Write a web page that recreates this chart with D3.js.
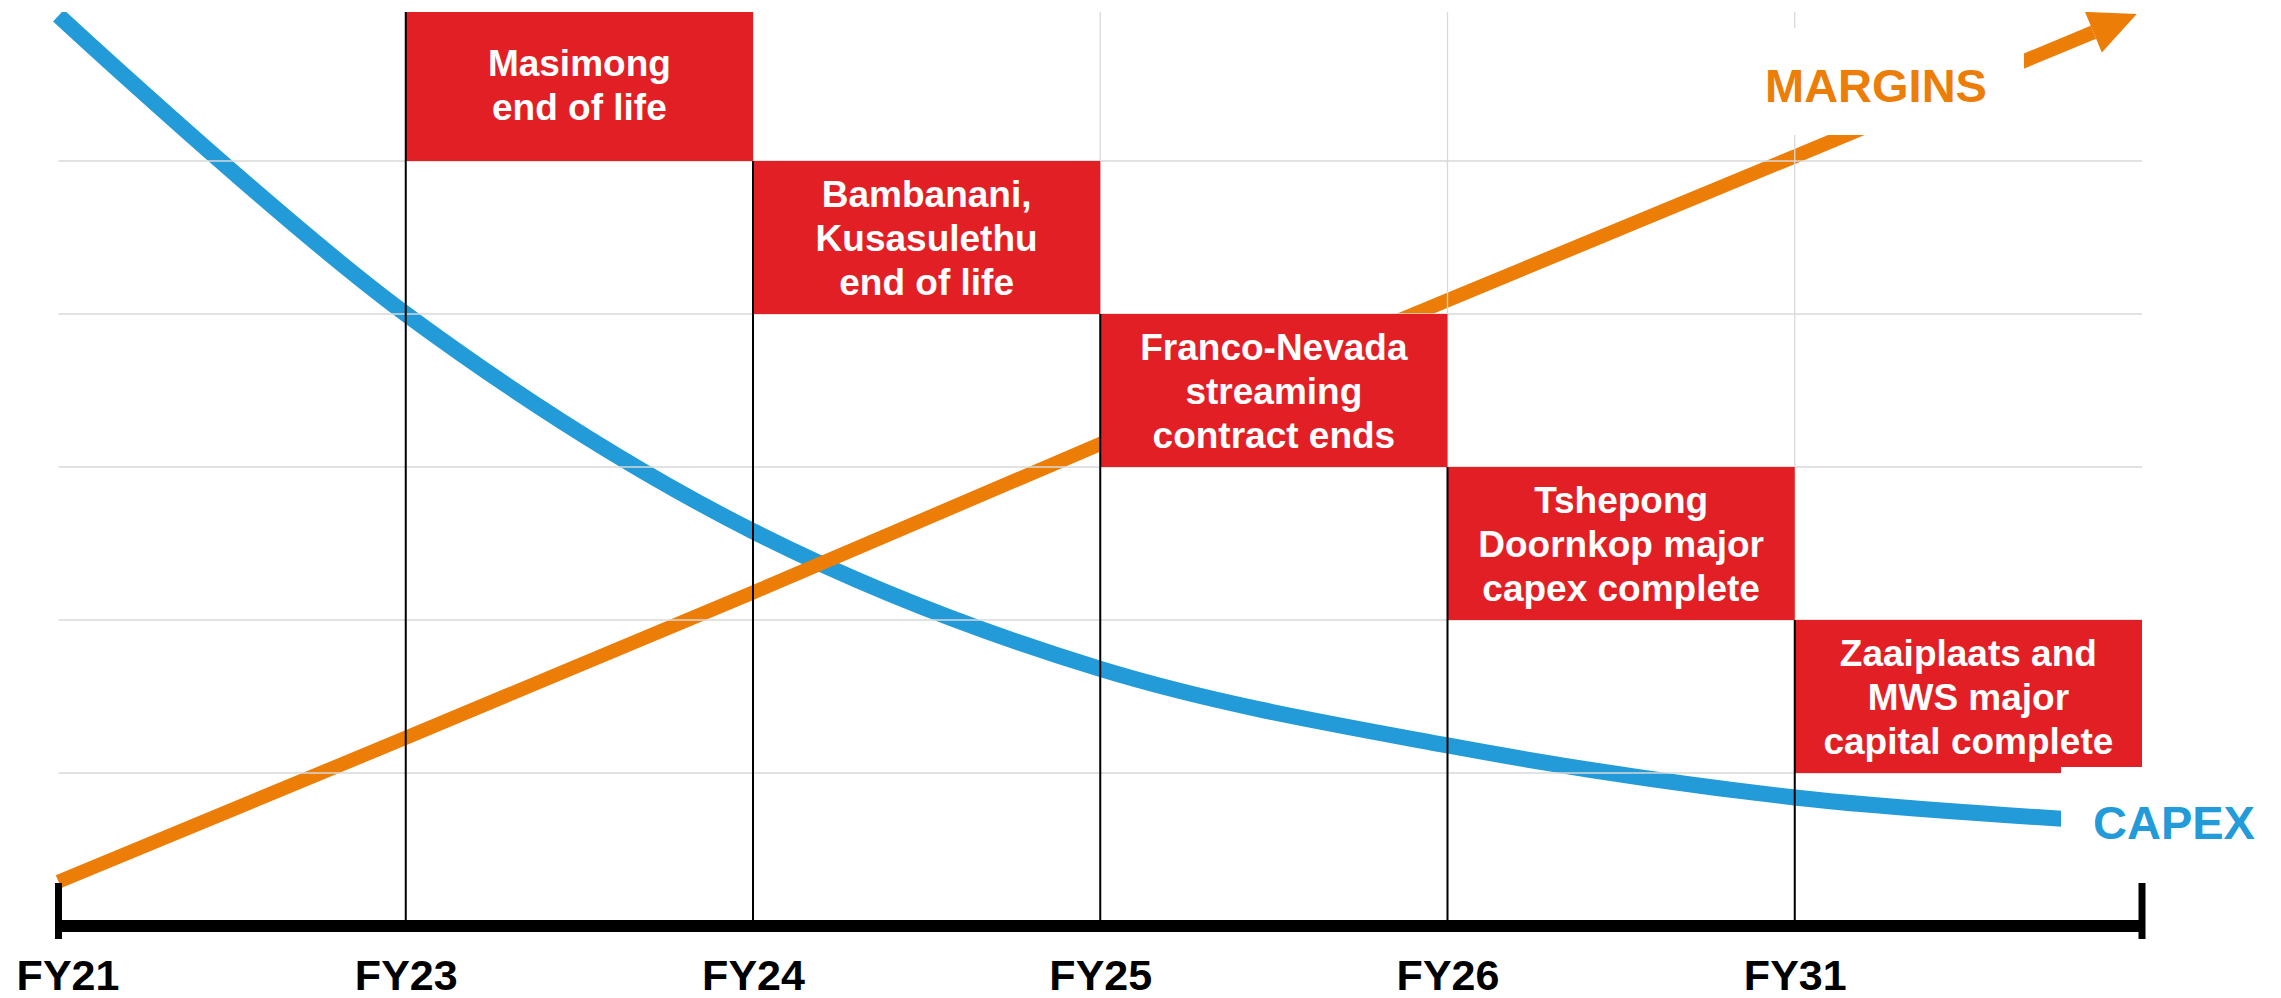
<!DOCTYPE html>
<html>
<head>
<meta charset="utf-8">
<script src="https://cdn.jsdelivr.net/npm/d3@7"></script>
<style>
	body { margin: 0; background: #fff; }
	svg text { font-family: "Liberation Sans", Arial, sans-serif; font-weight: bold; }
</style>
</head>
<body>
<div id="chart"></div>
<script>
// x positions are category slots, the last slot (6) is the arrow end of the axis
var categories = ['FY21', 'FY23', 'FY24', 'FY25', 'FY26', 'FY31'];

var capexX = [0, 1, 2, 3, 4, 5, 5.85];
var capexValues = [5.95, 4.0, 2.58, 1.68, 1.18, 0.84, 0.69];

var marginsX = [0, 1, 2, 3, 4, 5, 5.985];
var marginsValues = [0.29, 1.23, 2.18, 3.15, 4.09, 5.03, 5.96];

var eventLabels = [
	['Masimong', 'end of life'],
	['Bambanani,', 'Kusasulethu', 'end of life'],
	['Franco-Nevada', 'streaming', 'contract ends'],
	['Tshepong', 'Doornkop major', 'capex complete'],
	['Zaaiplaats and', 'MWS major', 'capital complete']
];
var eventStart = [1, 2, 3, 4, 5];
var eventTop = [6, 5, 4, 3, 2];

var gridLevels = [1, 2, 3, 4, 5];

var chart = {
	w: 2281,
	h: 998,
	colors: {
		capex: '#229bd8',
		margins: '#ec7d07',
		event: '#e31f26',
		grid: '#d9d9d9'
	},
	init: function() {
		chart.x = d3.scaleLinear().domain([0, 6]).range([58.5, 2142]);
		chart.y = d3.scaleLinear().domain([0, 6]).range([926, 8]);

		chart.svg = d3.select('#chart').append('svg')
			.attr('width', chart.w)
			.attr('height', chart.h);

		chart.svg.append('rect')
			.attr('width', chart.w).attr('height', chart.h)
			.attr('fill', '#fff');

		// the slide was cropped just under the top, so nothing shows above y=12
		chart.svg.append('clipPath').attr('id', 'top-crop')
			.append('rect')
			.attr('x', 0).attr('y', 12)
			.attr('width', chart.w).attr('height', chart.h - 12);

		chart.plot = chart.svg.append('g').attr('clip-path', 'url(#top-crop)');

		chart.lines();
		chart.grid();
		chart.events();
		chart.labels();
		chart.axis();
	},
	lines: function() {
		var x = chart.x, y = chart.y;

		var capex = d3.line()
			.x(function(d, i) { return x(capexX[i]); })
			.y(function(d) { return y(d); })
			.curve(d3.curveCatmullRom.alpha(0.5));

		chart.plot.append('path')
			.attr('d', capex(capexValues))
			.attr('fill', 'none')
			.attr('stroke', chart.colors.capex)
			.attr('stroke-width', 16);

		// margins: straight shaft that stops at the arrowhead base
		var pts = marginsValues.map(function(v, i) { return [x(marginsX[i]), y(v)]; }),
			tip = pts[pts.length - 1],
			prev = pts[pts.length - 2],
			len = Math.hypot(tip[0] - prev[0], tip[1] - prev[1]),
			ux = (tip[0] - prev[0]) / len,
			uy = (tip[1] - prev[1]) / len,
			headL = 47,
			headW = 22,
			base = [tip[0] - ux * headL, tip[1] - uy * headL];

		var shaft = pts.slice(0, -1).concat([base]);

		chart.plot.append('path')
			.attr('d', d3.line()(shaft))
			.attr('fill', 'none')
			.attr('stroke', chart.colors.margins)
			.attr('stroke-width', 14);

		chart.plot.append('path')
			.attr('d', d3.line()([
				tip,
				[base[0] - uy * headW, base[1] + ux * headW],
				[base[0] + uy * headW, base[1] - ux * headW]
			]) + 'Z')
			.attr('fill', chart.colors.margins);
	},
	grid: function() {
		var x = chart.x, y = chart.y;

		chart.plot.selectAll('.hgrid')
			.data(gridLevels)
			.enter().append('line')
			.attr('class', 'hgrid')
			.attr('x1', x(0)).attr('x2', x(6))
			.attr('y1', function(d) { return y(d); })
			.attr('y2', function(d) { return y(d); })
			.attr('stroke', chart.colors.grid)
			.attr('stroke-width', 1.3);

		chart.plot.selectAll('.vgrid')
			.data(d3.range(1, categories.length))
			.enter().append('line')
			.attr('class', 'vgrid')
			.attr('x1', function(d) { return x(d); })
			.attr('x2', function(d) { return x(d); })
			.attr('y1', y(6)).attr('y2', y(0))
			.attr('stroke', chart.colors.grid)
			.attr('stroke-width', 1.3);
	},
	events: function() {
		var x = chart.x, y = chart.y;

		var ev = chart.plot.selectAll('.event')
			.data(eventLabels)
			.enter().append('g')
			.attr('class', 'event');

		ev.append('rect')
			.attr('x', function(d, i) { return x(eventStart[i]); })
			.attr('y', function(d, i) { return y(eventTop[i]); })
			.attr('width', function(d, i) { return x(eventStart[i] + 1) - x(eventStart[i]); })
			.attr('height', function(d, i) { return y(eventTop[i] - 1) - y(eventTop[i]); })
			.attr('fill', chart.colors.event);

		ev.append('text')
			.attr('text-anchor', 'middle')
			.attr('fill', '#fff')
			.style('font-size', '37px')
			.attr('transform', function(d, i) {
				var cx = (x(eventStart[i]) + x(eventStart[i] + 1)) / 2,
					cy = (y(eventTop[i]) + y(eventTop[i] - 1)) / 2;
				return 'translate(' + cx + ',' + cy + ')';
			})
			.each(function(lines) {
				var t = d3.select(this), lh = 44;
				lines.forEach(function(s, k) {
					t.append('tspan')
						.attr('x', 0)
						.attr('y', (k - (lines.length - 1) / 2) * lh + 13)
						.text(s);
				});
			});

		// black markers from each event down to the axis
		ev.append('line')
			.attr('x1', function(d, i) { return x(eventStart[i]); })
			.attr('x2', function(d, i) { return x(eventStart[i]); })
			.attr('y1', function(d, i) { return y(eventTop[i]); })
			.attr('y2', y(0))
			.attr('stroke', '#000')
			.attr('stroke-width', 2);
	},
	labels: function() {
		// white boxes behind the series names, they hide the lines under them
		chart.plot.append('rect')
			.attr('x', 1750).attr('y', 28)
			.attr('width', 274).attr('height', 107)
			.attr('fill', '#fff');
		chart.plot.append('text')
			.attr('x', 1765).attr('y', 102)
			.attr('fill', chart.colors.margins)
			.style('font-size', '47px')
			.text('MARGINS');

		chart.plot.append('rect')
			.attr('x', 2061).attr('y', 767)
			.attr('width', 220).attr('height', 90)
			.attr('fill', '#fff');
		chart.plot.append('text')
			.attr('x', 2093).attr('y', 839)
			.attr('fill', chart.colors.capex)
			.style('font-size', '47px')
			.text('CAPEX');
	},
	axis: function() {
		var x = chart.x, y = chart.y;

		var axis = d3.axisBottom(x)
			.tickValues(d3.range(categories.length))
			.tickFormat(function(d) { return categories[d]; })
			.tickSize(0)
			.tickPadding(0);

		var g = chart.svg.append('g')
			.attr('transform', 'translate(0,' + y(0) + ')')
			.call(axis);

		g.select('.domain').remove();
		g.selectAll('.tick text')
			.attr('y', 64)
			.attr('dy', 0)
			.attr('dx', function(d) { return d === 0 ? 9 : 0; })
			.attr('fill', '#000')
			.style('font-size', '43px')
			.style('font-family', '"Liberation Sans", Arial, sans-serif')
			.style('font-weight', 'bold');

		g.append('line')
			.attr('x1', x(0)).attr('x2', x(6))
			.attr('stroke', '#000')
			.attr('stroke-width', 12);

		g.selectAll('.end')
			.data([0, 6])
			.enter().append('line')
			.attr('class', 'end')
			.attr('x1', function(d) { return x(d); })
			.attr('x2', function(d) { return x(d); })
			.attr('y1', -43).attr('y2', 13)
			.attr('stroke', '#000')
			.attr('stroke-width', 7);
	}
};

chart.init();
</script>
</body>
</html>
